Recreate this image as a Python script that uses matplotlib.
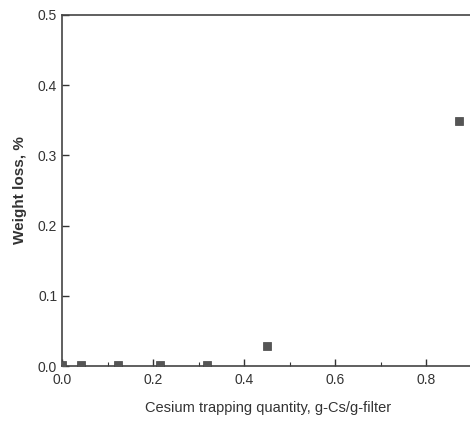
import matplotlib
matplotlib.use("Agg")
import matplotlib.pyplot as plt
from matplotlib.ticker import MultipleLocator, FormatStrFormatter

plt.rcParams['font.family'] = ['Liberation Sans', 'DejaVu Sans']

cs_quantity = [0.0, 0.042, 0.123, 0.215, 0.319, 0.451, 0.872]
weight_loss = [0.002, 0.002, 0.002, 0.002, 0.002, 0.028, 0.349]

fig = plt.figure(figsize=(4.70, 4.22), dpi=100)
ax = fig.add_axes([62/470, 56/422, 408/470, 351/422])
ax.scatter(cs_quantity, weight_loss, marker='s', s=30, color='#555555',
           edgecolors='#444444', linewidths=0.5, zorder=3)
ax.set_xlim(0, 408/455)
ax.set_ylim(0, 0.5)
ax.xaxis.set_major_locator(MultipleLocator(0.2))
ax.xaxis.set_minor_locator(MultipleLocator(0.1))
ax.yaxis.set_major_locator(MultipleLocator(0.1))
ax.tick_params(which='both', direction='in', colors='#333333', labelsize=10,
               labelcolor='#333333')
ax.tick_params(which='major', length=5, width=1)
ax.tick_params(which='minor', length=3, width=0.8)
ax.tick_params(axis='x', pad=5)
for s in ax.spines.values():
    s.set_color('#444444')
    s.set_linewidth(1.2)
ax.spines['right'].set_visible(False)
ax.xaxis.set_major_formatter(FormatStrFormatter('%.1f'))
ax.yaxis.set_major_formatter(FormatStrFormatter('%.1f'))
ax.set_xlabel('Cesium trapping quantity, g-Cs/g-filter', fontsize=10.5,
              color='#333333')
ax.xaxis.set_label_coords(0.505, -0.1)
ax.set_ylabel('Weight loss, %', fontsize=11, fontweight='bold',
              color='#333333', labelpad=8)
fig.savefig('out.png', dpi=100)
